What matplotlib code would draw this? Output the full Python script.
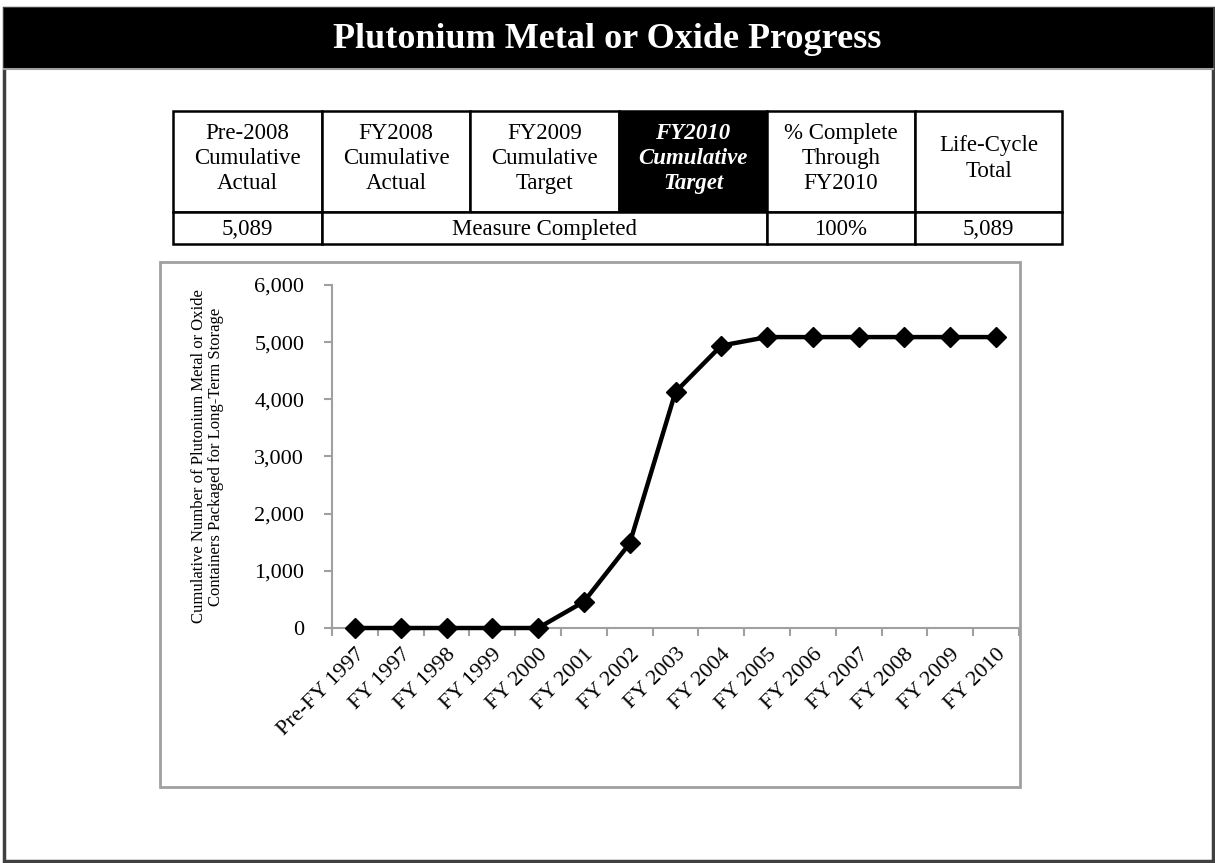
import matplotlib
matplotlib.use("Agg")
import matplotlib.pyplot as plt
from matplotlib.patches import Rectangle
from matplotlib.ticker import FuncFormatter, FixedLocator

plt.rcParams['font.family'] = ['Liberation Serif', 'DejaVu Serif']

# chart data
years = ["Pre-FY 1997", "FY 1997", "FY 1998", "FY 1999", "FY 2000", "FY 2001",
         "FY 2002", "FY 2003", "FY 2004", "FY 2005", "FY 2006", "FY 2007",
         "FY 2008", "FY 2009", "FY 2010"]
containers = [0, 0, 0, 0, 0, 460, 1480, 4130, 4940, 5089, 5089, 5089, 5089, 5089, 5089]

# summary table
header_cells = ["Pre-2008\nCumulative\nActual", "FY2008\nCumulative\nActual",
                "FY2009\nCumulative\nTarget", "FY2010\nCumulative\nTarget",
                "% Complete\nThrough\nFY2010", "Life-Cycle\nTotal"]
pre2008_actual = "5,089"
measure_note = "Measure Completed"
pct_complete = "100%"
life_cycle_total = "5,089"

W, H = 1215, 863
fig = plt.figure(figsize=(W / 100, H / 100), dpi=100)

# background layer in pixel coordinates
bg = fig.add_axes([0, 0, 1, 1])
bg.set_xlim(0, W)
bg.set_ylim(H, 0)
bg.axis('off')

# outer frame + title bar
bg.add_patch(Rectangle((4, 8), W - 6, H - 10, facecolor='white', edgecolor='#404040', lw=2.5))
bg.add_patch(Rectangle((4, 8), W - 6, 60, facecolor='black', edgecolor='none'))
bg.plot([4, W - 2], [69, 69], color='#a0a0a0', lw=1.5)
bg.text(W / 2, 40, "Plutonium Metal or Oxide Progress", color='white',
        fontsize=26, fontweight='bold', ha='center', va='center')

# table
col_x = [173, 322, 470, 619, 767, 915, 1062]
row_y = [111, 212, 244]
for i, txt in enumerate(header_cells):
    x0, x1 = col_x[i], col_x[i + 1]
    highlight = (i == 3)
    bg.add_patch(Rectangle((x0, row_y[0]), x1 - x0, row_y[1] - row_y[0],
                           facecolor='black' if highlight else 'white',
                           edgecolor='black', lw=1.8))
    bg.text((x0 + x1) / 2, (row_y[0] + row_y[1]) / 2 - 3, txt,
            ha='center', va='center', fontsize=16.5, linespacing=1.26,
            color='white' if highlight else 'black',
            fontweight='bold' if highlight else 'normal',
            fontstyle='italic' if highlight else 'normal')

data_cells = [(0, 1, pre2008_actual), (1, 4, measure_note), (4, 5, pct_complete), (5, 6, life_cycle_total)]
for a, b, txt in data_cells:
    x0, x1 = col_x[a], col_x[b]
    bg.add_patch(Rectangle((x0, row_y[1]), x1 - x0, row_y[2] - row_y[1],
                           facecolor='white', edgecolor='black', lw=1.8))
    bg.text((x0 + x1) / 2, (row_y[1] + row_y[2]) / 2 + 1, txt,
            ha='center', va='center', fontsize=16.5)

# chart panel box
bg.add_patch(Rectangle((160, 262), 860, 525, facecolor='white', edgecolor='#a0a0a0', lw=2))

# chart axes
ax_l, ax_r, ax_t, ax_b = 332, 1019, 285, 628
ax = fig.add_axes([ax_l / W, 1 - ax_b / H, (ax_r - ax_l) / W, (ax_b - ax_t) / H])
ax.set_facecolor('none')
x = list(range(len(years)))
ax.plot(x, containers, color='black', lw=3.2, marker='D', markersize=10,
        markerfacecolor='black', markeredgecolor='black', clip_on=False, zorder=5)

ax.set_xlim(-0.5, len(years) - 0.5)
ax.set_ylim(0, 6000)
ax.set_yticks(range(0, 6001, 1000))
ax.yaxis.set_major_formatter(FuncFormatter(lambda v, p: "{:,.0f}".format(v)))
ax.set_xticks(x)
ax.set_xticklabels(years, rotation=45, ha='right', rotation_mode='anchor', fontsize=16)
ax.xaxis.set_minor_locator(FixedLocator([i - 0.5 for i in range(len(years) + 1)]))
ax.tick_params(axis='x', which='major', length=0, pad=12)
ax.tick_params(axis='x', which='minor', length=6, color='#a0a0a0', width=1.5)
ax.tick_params(axis='y', length=6, color='#a0a0a0', width=1.5, labelsize=16, pad=14)

for s in ['top', 'right']:
    ax.spines[s].set_visible(False)
for s in ['left', 'bottom']:
    ax.spines[s].set_color('#a0a0a0')
    ax.spines[s].set_linewidth(1.5)

ax.set_ylabel("Cumulative Number of Plutonium Metal or Oxide\nContainers Packaged for Long-Term Storage",
              fontsize=12, linespacing=1.05, labelpad=22)

fig.savefig("out.png", dpi=100)
